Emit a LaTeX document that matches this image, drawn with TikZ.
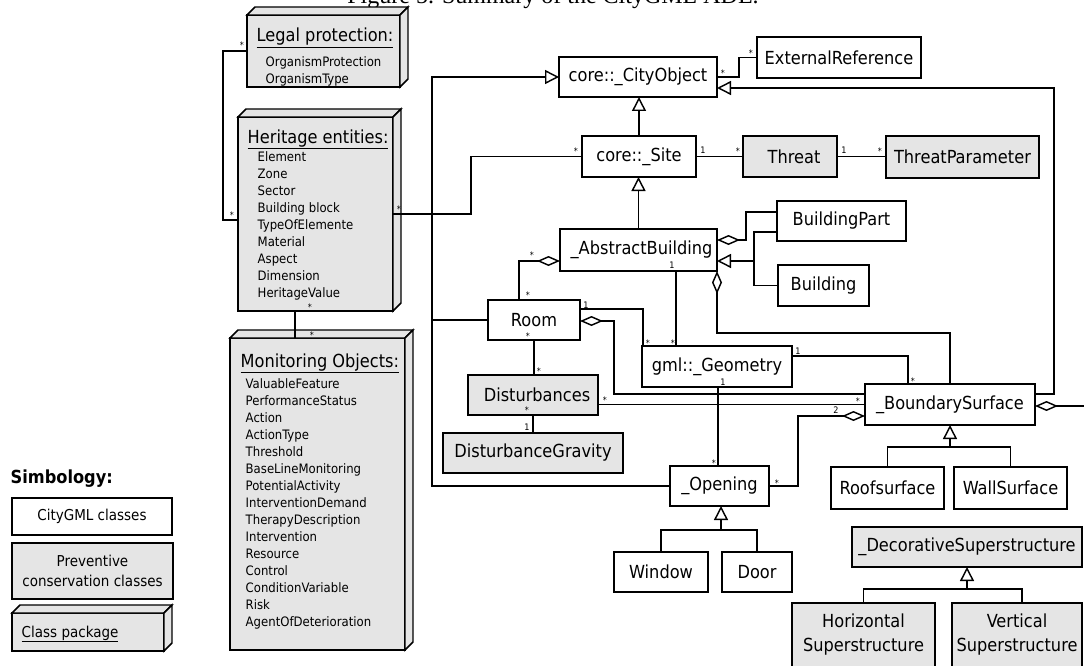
\documentclass[tikz,border=0pt]{standalone}
\usepackage{fontspec}
\setmainfont{DejaVu Sans Condensed}
\newfontfamily\capfont{Liberation Serif}
\usetikzlibrary{arrows.meta,calc}
\definecolor{pcgray}{RGB}{229,229,229}
\newcommand\clsfont{\fontsize{18}{24}\selectfont}
\newcommand\ttlfont{\fontsize{18}{22}\selectfont}
\newcommand\itmfont{\fontsize{13}{16}\selectfont}
\newcommand\legfont{\fontsize{15}{20}\selectfont}
\newcommand\multfont{\fontsize{9}{10}\selectfont}
\newcommand\pkgfaces[1]{%
  \draw[fill=pcgray] (#1.north west) -- ($(#1.north west)+(8,-8)$) -- ($(#1.north east)+(8,-8)$) -- (#1.north east) -- cycle;
  \draw[fill=pcgray] (#1.north east) -- ($(#1.north east)+(8,-8)$) -- ($(#1.south east)+(8,-8)$) -- (#1.south east) -- cycle;}
\begin{document}
\begin{tikzpicture}[x=1pt,y=-1pt,line width=1.45pt,
  cls/.style={draw,fill=white,inner sep=0pt,outer sep=0pt,font=\clsfont},
  pc/.style={cls,fill=pcgray},
  pkg/.style={draw,fill=pcgray,inner sep=0pt,outer sep=0pt},
  item/.style={anchor=base west,inner sep=0pt,font=\itmfont},
  ttl/.style={anchor=base west,inner sep=0pt,font=\ttlfont},
  mult/.style={inner sep=0pt,font=\multfont},
  gen/.style={-{Triangle[open,length=14pt,width=14pt]}},
  agg/.style={-{Diamond[open,length=23pt,width=10pt]}}]
\useasboundingbox (0,0) rectangle (1084,666);

% caption (cut at top)
\node[font=\capfont\fontsize{24}{28}\selectfont,anchor=base,inner sep=0pt] (caption) at (553,4) {Figure 5. Summary of the CityGML ADE.};

% packages
\node[pkg,minimum width=153pt,minimum height=72pt] (legal) at (323.5,51) {};
\pkgfaces{legal}
\node[ttl] (legalt) at (256,42) {\underline{Legal protection:}};
\foreach \t [count=\i] in {OrganismProtection,OrganismType}
  \node[item] (l\i) at (265,50+17*\i) {\t};

\node[pkg,minimum width=155pt,minimum height=194pt] (herit) at (315.5,214) {};
\pkgfaces{herit}
\node[ttl] (heritt) at (247,143) {\underline{Heritage entities:}};
\foreach \t [count=\i] in {Element,Zone,Sector,Building block,TypeOfElemente,Material,Aspect,Dimension,HeritageValue}
  \node[item] (h\i) at (257,144+17*\i) {\t};

\node[pkg,minimum width=175pt,minimum height=312pt] (monit) at (317.5,494) {};
\pkgfaces{monit}
\node[ttl] (monitt) at (240,367) {\underline{Monitoring Objects:}};
\foreach \t [count=\i] in {ValuableFeature,PerformanceStatus,Action,ActionType,Threshold,BaseLineMonitoring,PotentialActivity,InterventionDemand,TherapyDescription,Intervention,Resource,Control,ConditionVariable,Risk,AgentOfDeterioration}
  \node[item] (m\i) at (245,371+17*\i) {\t};

% classes
\node[cls,minimum width=158pt,minimum height=40pt] (cityobj) at (638,77) {core::\_CityObject};
\node[cls,minimum width=164pt,minimum height=41pt] (extref) at (839,57.5) {ExternalReference};
\node[cls,minimum width=114pt,minimum height=41pt] (site) at (639,156.5) {core::\_Site};
\node[pc,minimum width=94pt,minimum height=41pt] (threat) at (790,156.5) {\hspace{8pt}Threat};
\node[pc,minimum width=153pt,minimum height=42pt] (tparam) at (962.5,157) {ThreatParameter};
\node[cls,minimum width=157pt,minimum height=42pt] (absb) at (638.5,250) {\hspace{6pt}\_AbstractBuilding};
\node[cls,minimum width=129pt,minimum height=40pt] (bpart) at (841.5,221) {BuildingPart};
\node[cls,minimum width=91pt,minimum height=41pt] (building) at (823.5,285.5) {Building};
\node[cls,minimum width=92pt,minimum height=40pt] (room) at (534,320) {Room};
\node[cls,minimum width=150pt,minimum height=41pt] (geom) at (717,366.5) {gml::\_Geometry};
\node[pc,minimum width=130pt,minimum height=40pt] (dist) at (533,395) {\hspace{8pt}Disturbances};
\node[pc,minimum width=180pt,minimum height=40pt] (dgrav) at (533,453) {DisturbanceGravity};
\node[cls,minimum width=170pt,minimum height=41pt] (bsurf) at (950,404.5) {\_BoundarySurface};
\node[cls,minimum width=99pt,minimum height=40pt] (opening) at (719.5,486) {\_Opening};
\node[cls,minimum width=113pt,minimum height=42pt] (roof) at (887.5,488) {Roofsurface};
\node[cls,minimum width=113pt,minimum height=42pt] (wall) at (1010.5,488) {WallSurface};
\node[cls,minimum width=94pt,minimum height=40pt] (window) at (661,572) {Window};
\node[cls,minimum width=70pt,minimum height=40pt] (door) at (757,572) {Door};
\node[pc,minimum width=230pt,minimum height=40pt] (deco) at (967,547) {\_DecorativeSuperstructure};
\node[pc,minimum width=143pt,minimum height=64pt,align=center] (hsup) at (863.5,635) {Horizontal\\Superstructure};
\node[pc,minimum width=130pt,minimum height=64pt,align=center] (vsup) at (1017,635) {Vertical\\Superstructure};

% legend
\node[anchor=base west,inner sep=0pt,font=\fontsize{18}{20}\selectfont\bfseries] (simb) at (10,483) {Simbology:};
\node[cls,font=\legfont,minimum width=160pt,minimum height=37pt] (leg1) at (92,516.5) {CityGML classes};
\node[pc,font=\legfont,align=center,minimum width=161pt,minimum height=56pt] (leg2) at (92.5,571) {Preventive\\conservation classes};
\node[pkg,minimum width=152pt,minimum height=38pt] (leg3) at (88,632) {};
\pkgfaces{leg3}
\node[anchor=base west,inner sep=0pt,font=\legfont] (leg3t) at (21,637) {\underline{Class package}};

% connectors
\draw (legal.west) -- ++(-24,0) |- ($(herit.west)+(0,6)$);
\draw (herit.east) -- ++(78,0) |- (site.west);
\draw ([xshift=-20.5pt]herit.south) -- ([xshift=-20.5pt]herit.south |- monit.north);
\coordinate (lx) at (432,0);
\draw[gen] (opening.west) -- (opening.west -| lx) |- (cityobj.west);
\draw (room.west) -- (room.west -| lx);
\draw (cityobj.east) -- ++(22,0) |- (extref.west);
\draw[gen] ($(bsurf.east)+(0,-10.5)$) -- ++(19,0) |- ($(cityobj.east)+(0,11)$);
\draw[gen] (site.north) -- (site.north |- cityobj.south);
\draw[gen] (absb.north) -- (absb.north |- site.south);
\draw (site.east) -- (threat.west);
\draw (threat.east) -- (threat.east -| tparam.west);
\draw[agg] ($(bpart.west)+(0,-9)$) -- ++(-31,0) |- ($(absb.east)+(0,-10)$);
\draw[gen] (building.west) -- ++(-24,0) |- ($(absb.east)+(0,11)$);
\draw ($(bpart.west)+(0,11)$) -| ($(building.west)+(-24,0)$);
\draw[agg] (bsurf.north) -- ++(0,-51) -| (absb.south east);
\draw[agg] ($(room.north)+(-15,0)$) |- ($(absb.west)+(0,11)$);
\draw ([xshift=37.5pt]absb.south) -- ([xshift=37.5pt]absb.south |- geom.north);
\draw ($(room.east)+(0,-11)$) -| ($(geom.north west)+(1,0)$);
\draw[agg] ($(bsurf.west)+(0,-10.5)$) -- ++(-251,0) |- ($(room.east)+(0,1)$);
\draw (room.south) -- (room.south |- dist.north);
\draw (dist.south) -- (dgrav.north);
\draw ($(dist.east)+(0,9.5)$) -- (bsurf.west);
\draw ($(geom.east)+(0,-10.5)$) -| ($(bsurf.north)+(-42,0)$);
\draw ([xshift=1pt]geom.south) -- ([xshift=1pt]geom.south |- opening.north);
\draw[agg] (opening.east) -- ++(29,0) |- ($(bsurf.west)+(0,11.5)$);
\coordinate (offr) at (1090,406);
\draw[agg] (offr) -- ($(bsurf.east)+(0,1.5)$);
\draw (roof.north) -- ++(0,-20) -| (wall.north);
\draw[gen] ($(bsurf.south)+(0,22)$) -- (bsurf.south);
\draw (window.north) -- ++(0,-22) -| (door.north);
\draw[gen] ($(opening.south)+(1.5,24)$) -- ([xshift=1.5pt]opening.south);
\draw (hsup.north) -- ++(0,-14) -| ($(vsup.north)+(5,0)$);
\draw[gen] ($(deco.south)+(0,22)$) -- (deco.south);

% multiplicities
\foreach \x/\y [count=\i] in {242/43,232/213,399/207,576/149,310/305,312/333,723/71,751/51,738/149,880/149,532/253,528/293,673/341,648/341,528/334,539/369,527/408,605/398,858/399,913/379,714/461,777/481}
  \node[mult] (s\i) at (\x,\y+2) {*};
\foreach \x/\y/\t [count=\i] in {703/150/1,844/150/1,672/265/1,586/305/1,527/427/1,798/351/1,723/382/1,836/410/2}
  \node[mult] (d\i) at (\x,\y) {\t};
\end{tikzpicture}
\end{document}
